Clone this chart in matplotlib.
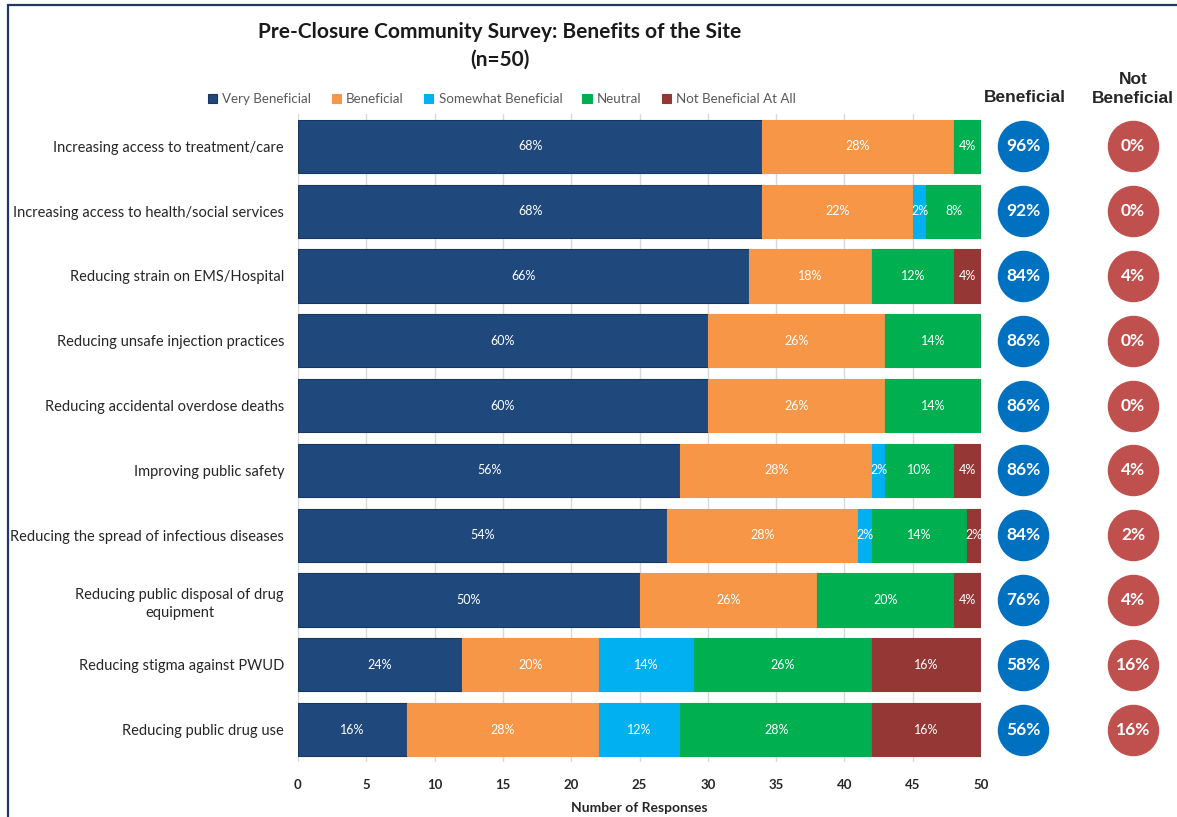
import matplotlib
matplotlib.use("Agg")
import matplotlib.pyplot as plt
from matplotlib.patches import Rectangle
import numpy as np

plt.rcParams['font.family'] = ['Lato', 'DejaVu Sans']

categories = [
    "Increasing access to treatment/care",
    "Increasing access to health/social services",
    "Reducing strain on EMS/Hospital",
    "Reducing unsafe injection practices",
    "Reducing accidental overdose deaths",
    "Improving public safety",
    "Reducing the spread of infectious diseases",
    "Reducing public disposal of drug\nequipment",
    "Reducing stigma against PWUD",
    "Reducing public drug use",
]
series_names = ["Very Beneficial", "Beneficial", "Somewhat Beneficial", "Neutral", "Not Beneficial At All"]
# percentages of n=50
very_beneficial = [68, 68, 66, 60, 60, 56, 54, 50, 24, 16]
beneficial = [28, 22, 18, 26, 26, 28, 28, 26, 20, 28]
somewhat_beneficial = [0, 2, 0, 0, 0, 2, 2, 0, 14, 12]
neutral = [4, 8, 12, 14, 14, 10, 14, 20, 26, 28]
not_beneficial = [0, 0, 4, 0, 0, 4, 2, 4, 16, 16]
total_beneficial = [96, 92, 84, 86, 86, 86, 84, 76, 58, 56]
total_not_beneficial = [0, 0, 4, 0, 0, 4, 2, 4, 16, 16]
n = 50

colors = ["#1F497D", "#F79646", "#00B0F0", "#00B050", "#953735"]

W, H = 1177, 817
fig = plt.figure(figsize=(W / 100, H / 100), dpi=100)

ax = fig.add_axes([298 / W, 1 - 762 / H, 683 / W, 648 / H])
y = np.arange(len(categories))
left = np.zeros(len(categories))
for name, pct, col in zip(series_names,
                          [very_beneficial, beneficial, somewhat_beneficial, neutral, not_beneficial],
                          colors):
    counts = np.array(pct) * n / 100
    ax.barh(y, counts, left=left, height=0.82, color=col, label=name,
            edgecolor="#17375E" if col == "#1F497D" else col, linewidth=0.8, zorder=2)
    for yi, c, l, p in zip(y, counts, left, pct):
        if p > 0:
            ax.text(l + c / 2, yi, f"{p}%", ha="center", va="center",
                    color="white", fontsize=9, zorder=3)
    left += counts

ax.set_xlim(0, 50)
ax.set_ylim(len(categories) - 0.5, -0.5)
ax.set_xticks(range(0, 51, 5))
ax.set_yticks(y)
ax.set_yticklabels(categories, fontsize=10.5, color="#262626", multialignment="center")
for lab in ax.get_yticklabels():
    lab.set_linespacing(1.45)
ax.tick_params(axis="both", length=0)
ax.tick_params(axis="y", pad=10)
ax.tick_params(axis="x", pad=12)
for lab in ax.get_xticklabels():
    lab.set_fontweight("bold")
    lab.set_fontsize(9.5)
    lab.set_color("#262626")
ax.set_xlabel("Number of Responses", fontsize=10, fontweight="bold", color="#262626", labelpad=8)
ax.grid(True, axis="x", color="#D9D9D9", linewidth=1, zorder=0)
for s in ax.spines.values():
    s.set_visible(False)

fig.legend(loc="center", bbox_to_anchor=(502 / W, 1 - 99 / H), ncol=5, frameon=False,
           fontsize=9.6, handlelength=0.7, handleheight=0.7, handletextpad=0.4,
           columnspacing=1.5, labelcolor="#595959")

fig.text(500 / W, 1 - 32 / H, "Pre-Closure Community Survey: Benefits of the Site",
         ha="center", va="center", fontsize=15, fontweight="bold", color="#1a1a1a")
fig.text(500 / W, 1 - 60 / H, "(n=50)", ha="center", va="center",
         fontsize=15, fontweight="bold", color="#1a1a1a")

# right-hand summary circles
axr = fig.add_axes([985 / W, 1 - 762 / H, (W - 985) / W, 648 / H])
axr.set_xlim(985, W)
axr.set_ylim(len(categories) - 0.5, -0.5)
axr.axis("off")
axr.scatter([1023] * len(y), y, s=1300, color="#0070C0", zorder=2, clip_on=False)
axr.scatter([1133] * len(y), y, s=1300, color="#C0504D", zorder=2, clip_on=False)
for yi, b, nb in zip(y, total_beneficial, total_not_beneficial):
    axr.text(1023, yi, f"{b}%", ha="center", va="center", color="white",
             fontsize=12.5, fontweight="bold", zorder=3)
    axr.text(1133, yi, f"{nb}%", ha="center", va="center", color="white",
             fontsize=12.5, fontweight="bold", zorder=3)

fig.text(1025 / W, 1 - 97 / H, "Beneficial", ha="center", va="center",
         fontsize=12.5, fontweight="bold", family="Liberation Sans", color="#262626")
fig.text(1133 / W, 1 - 89 / H, "Not\nBeneficial", ha="center", va="center",
         fontsize=12.5, fontweight="bold", family="Liberation Sans", color="#262626",
         linespacing=1.35)

# outer frame
fig.patches.append(Rectangle((8 / W, -0.05), 1.1, 1 - 5 / H + 0.05, transform=fig.transFigure,
                             fill=False, edgecolor="#1F3864", linewidth=1.6))

fig.savefig("out.png", dpi=100)
